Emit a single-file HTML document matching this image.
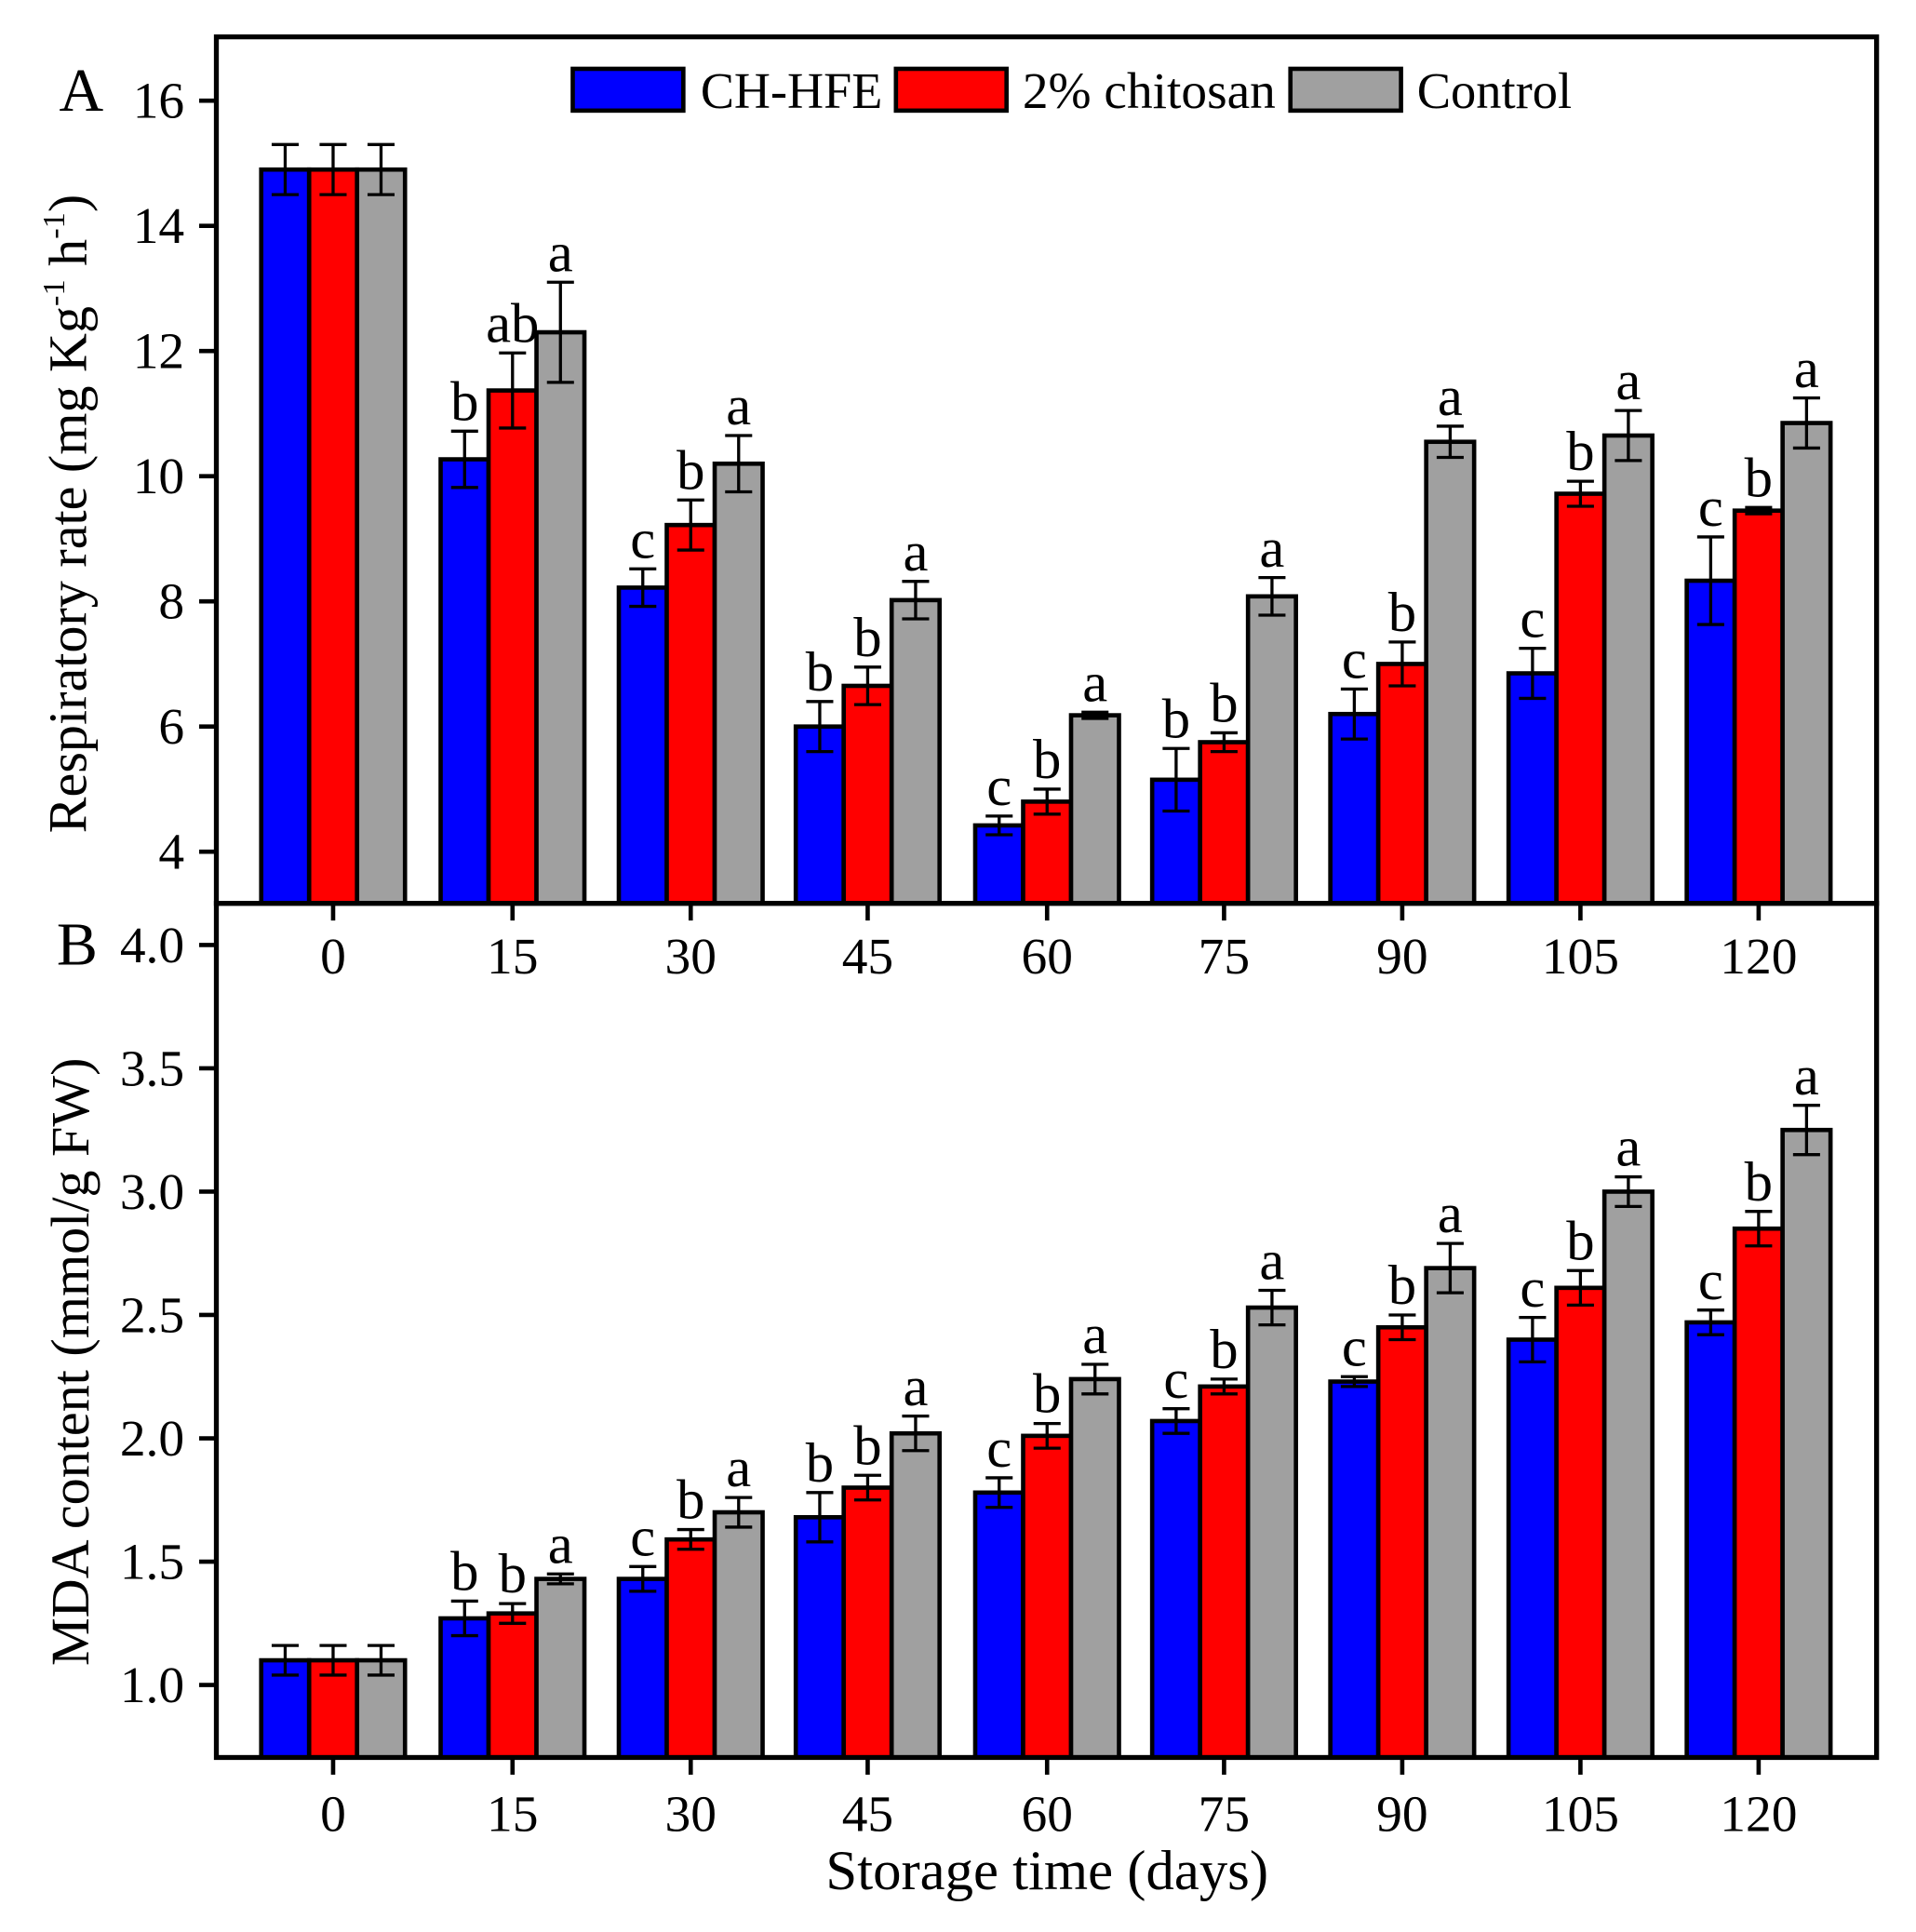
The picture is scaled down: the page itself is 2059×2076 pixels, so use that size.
<!DOCTYPE html>
<html><head><meta charset="utf-8"><style>
html,body{margin:0;padding:0;background:#fff;}
svg{display:block;}
text{font-family:"Liberation Serif",serif;fill:#000;}
</style></head><body>
<svg id="s" width="2059" height="2076" viewBox="0 0 1559 1572" xmlns="http://www.w3.org/2000/svg"></svg>
<script>
const s=document.getElementById('s');
let h='';
const L=176,R=1527;
const cols=['#0000ff','#ff0000','#a0a0a0'];
const centers=[271,417,562,706,852,996,1141,1286,1431];
const xl=['0','15','30','45','60','75','90','105','120'];
const bw=39;
const yA=v=>693-(v-4)*50.92;
const yB=v=>1371-(v-1)*200.7;
const A=[[14.9,14.9,14.9],[10.27,11.37,12.3],[8.22,9.22,10.2],[6.0,6.65,8.02],[4.42,4.8,6.18],[5.15,5.75,8.08],[6.2,7.0,10.55],[6.85,9.72,10.65],[8.33,9.45,10.85]];
const Ae=[[0.4,0.4,0.4],[0.45,0.6,0.8],[0.3,0.4,0.45],[0.4,0.3,0.3],[0.15,0.2,0.05],[0.5,0.15,0.3],[0.4,0.35,0.25],[0.4,0.2,0.4],[0.7,0.05,0.4]];
const Al=[['','',''],['b','ab','a'],['c','b','a'],['b','b','a'],['c','b','a'],['b','b','a'],['c','b','a'],['c','b','a'],['c','b','a']];
const B=[[1.1,1.1,1.1],[1.27,1.29,1.43],[1.43,1.59,1.70],[1.68,1.80,2.02],[1.78,2.01,2.24],[2.07,2.21,2.53],[2.23,2.45,2.69],[2.40,2.61,3.00],[2.47,2.85,3.25]];
const Be=[[0.06,0.06,0.06],[0.07,0.04,0.02],[0.05,0.04,0.06],[0.1,0.05,0.07],[0.06,0.05,0.06],[0.05,0.03,0.07],[0.02,0.05,0.1],[0.09,0.07,0.06],[0.05,0.07,0.1]];
const Bl=[['','',''],['b','b','a'],['c','b','a'],['b','b','a'],['c','b','a'],['c','b','a'],['c','b','a'],['c','b','a'],['c','b','a']];
function panel(D,E,Lt,yf,bot){
  for(let i=0;i<9;i++){
    for(let j=0;j<3;j++){
      const cx=centers[i]+(j-1)*bw, x=cx-bw/2, y=yf(D[i][j]);
      h+=`<rect x="${x}" y="${y}" width="${bw}" height="${bot-y}" fill="${cols[j]}" stroke="#000" stroke-width="3.5"/>`;
    }
    for(let j=0;j<3;j++){
      const cx=centers[i]+(j-1)*bw;
      const t=yf(D[i][j]+E[i][j]), b=yf(D[i][j]-E[i][j]);
      h+=`<path d="M${cx} ${t}V${b}M${cx-11} ${t}H${cx+11}M${cx-11} ${b}H${cx+11}" stroke="#000" stroke-width="2.5" fill="none"/>`;
      if(Lt[i][j]) h+=`<text x="${cx}" y="${t-9}" font-size="46" text-anchor="middle">${Lt[i][j]}</text>`;
    }
  }
}
panel(A,Ae,Al,yA,735);
panel(B,Be,Bl,yB,1430);
h+=`<rect x="${L}" y="30" width="${R-L}" height="705" fill="none" stroke="#000" stroke-width="4"/>`;
h+=`<rect x="${L}" y="735" width="${R-L}" height="695" fill="none" stroke="#000" stroke-width="4"/>`;
[4,6,8,10,12,14,16].forEach(v=>{const y=yA(v);h+=`<line x1="162" x2="${L}" y1="${y}" y2="${y}" stroke="#000" stroke-width="3.5"/><text x="150" y="${y+14}" font-size="42" text-anchor="end">${v}</text>`;});
[1.0,1.5,2.0,2.5,3.0,3.5,4.0].forEach(v=>{const y=yB(v);h+=`<line x1="162" x2="${L}" y1="${y}" y2="${y}" stroke="#000" stroke-width="3.5"/><text x="150" y="${y+14}" font-size="42" text-anchor="end">${v.toFixed(1)}</text>`;});
centers.forEach((c,i)=>{
  h+=`<line x1="${c}" x2="${c}" y1="735" y2="749" stroke="#000" stroke-width="3.5"/><text x="${c}" y="792" font-size="42" text-anchor="middle">${xl[i]}</text>`;
  h+=`<line x1="${c}" x2="${c}" y1="1430" y2="1444" stroke="#000" stroke-width="3.5"/><text x="${c}" y="1490" font-size="42" text-anchor="middle">${xl[i]}</text>`;
});
h+=`<text x="852" y="1537" font-size="46" text-anchor="middle">Storage time (days)</text>`;
h+=`<text x="48" y="90" font-size="50">A</text><text x="46" y="785" font-size="50">B</text>`;
h+=`<text transform="translate(70,418) rotate(-90)" font-size="44" text-anchor="middle">Respiratory rate (mg Kg<tspan font-size="26" dy="-18">-1</tspan><tspan dy="18"> h</tspan><tspan font-size="26" dy="-18">-1</tspan><tspan dy="18">)</tspan></text>`;
h+=`<text transform="translate(72,1108) rotate(-90)" font-size="44" text-anchor="middle">MDA content (mmol/g FW)</text>`;
[[466,'CH-HFE',570,148],[729,'2% chitosan',832,206],[1050,'Control',1153,126]].forEach((l,j)=>{
  h+=`<rect x="${l[0]}" y="56" width="90" height="34" fill="${cols[j]}" stroke="#000" stroke-width="3.5"/><text x="${l[2]}" y="88" font-size="42" textLength="${l[3]}" lengthAdjust="spacingAndGlyphs">${l[1]}</text>`;
});
s.innerHTML=h;
</script>
</body></html>
